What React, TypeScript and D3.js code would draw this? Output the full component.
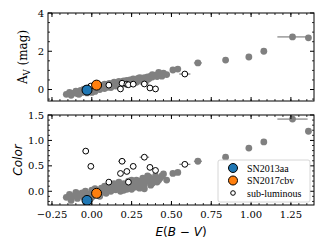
import React from 'react';
import * as d3 from 'd3';

// gray sample: E(B-V), A_V, colour, x error
const grayE = [-0.16, -0.14, -0.12, -0.1, -0.09, -0.07, -0.06, -0.05, -0.04, -0.02, -0.01, 0.0, 0.01, 0.02, 0.03, 0.04, 0.05, 0.06, 0.07, 0.08, 0.09, 0.1, 0.11, 0.12, 0.13, 0.14, 0.15, 0.16, 0.17, 0.18, 0.19, 0.2, 0.21, 0.22, 0.23, 0.24, 0.25, 0.26, 0.27, 0.28, 0.29, 0.3, 0.31, 0.32, 0.33, 0.35, 0.36, 0.37, 0.38, 0.4, 0.41, 0.43, 0.45, 0.47, 0.509, 0.54, 0.666, 0.84, 0.986, 1.08, 1.26, 1.36,
  -0.13, -0.08, -0.03, 0.0, 0.02, 0.05, 0.08, 0.1, 0.12, 0.15, 0.18, 0.2, 0.22, 0.25, 0.28, 0.3, 0.33, 0.35, 0.38, 0.42, 0.44];
const grayAv = [-0.25, -0.15, -0.2, -0.08, -0.22, -0.05, -0.15, 0.02, -0.1, 0.05, -0.05, 0.1, -0.02, 0.15, 0.05, 0.2, 0.1, 0.22, 0.12, 0.28, 0.18, 0.25, 0.32, 0.2, 0.3, 0.38, 0.26, 0.35, 0.42, 0.3, 0.4, 0.45, 0.35, 0.48, 0.4, 0.5, 0.45, 0.55, 0.42, 0.52, 0.58, 0.48, 0.6, 0.55, 0.62, 0.66, 0.58, 0.7, 0.65, 0.75, 0.68, 0.8, 0.86, 0.78, 1.02, 1.07, 1.39, 1.54, 1.7, 2.0, 2.75, 2.7,
  -0.3, -0.25, -0.18, -0.15, -0.1, 0.0, 0.05, 0.12, 0.1, 0.18, 0.22, 0.3, 0.28, 0.35, 0.38, 0.62, 0.48, 0.52, 0.78, 0.9, 0.7];
const grayColor = [-0.12, -0.06, -0.1, -0.02, -0.14, -0.08, -0.03, -0.12, 0.0, -0.06, -0.15, 0.02, -0.08, 0.05, -0.03, 0.0, -0.1, 0.06, 0.02, 0.1, -0.04, 0.05, 0.12, 0.0, 0.08, 0.15, 0.03, 0.1, 0.18, 0.06, 0.12, 0.02, 0.14, 0.08, 0.2, 0.1, 0.04, 0.16, 0.08, 0.22, 0.12, 0.06, 0.18, 0.26, 0.14, 0.2, 0.28, 0.12, 0.24, 0.3, 0.18, 0.26, 0.34, 0.22, 0.35, 0.37, 0.59, 0.67, 0.85, 0.97, 1.42, 1.18,
  -0.18, -0.05, -0.1, -0.12, 0.0, 0.02, -0.02, 0.08, 0.1, 0.12, 0.0, 0.15, 0.04, 0.22, 0.1, 0.2, 0.05, 0.3, 0.16, 0.22, 0.3];
const grayErr = [0, 0, 0, 0, 0, 0, 0, 0, 0, 0, 0, 0, 0, 0, 0, 0, 0, 0, 0, 0, 0, 0, 0, 0, 0, 0, 0, 0, 0, 0, 0, 0, 0, 0, 0, 0, 0, 0, 0, 0, 0, 0, 0, 0, 0, 0, 0, 0, 0, 0, 0, 0, 0, 0, 0.01, 0.01, 0.025, 0.01, 0.01, 0.01, 0.095, 0.01,
  0, 0, 0, 0, 0, 0, 0, 0, 0, 0, 0, 0, 0, 0, 0, 0, 0, 0, 0, 0, 0];

// sub-luminous sample
const subE = [-0.038, -0.006, 0.107, 0.18, 0.19, 0.22, 0.23, 0.26, 0.33, 0.365, 0.4, 0.584];
const subAv = [0.05, 0.18, 0.23, 0.03, 0.33, 0.28, 0.25, 0.28, 0.29, 0.08, 0.03, 0.81];
const subColor = [0.79, 0.49, 0.18, 0.35, 0.59, 0.39, 0.18, 0.49, 0.67, 0.47, 0.41, 0.53];
const subErr = [0.02, 0.01, 0.01, 0.01, 0.025, 0.01, 0.01, 0.01, 0.03, 0.01, 0.01, 0.035];

const highlight = [
  { name: 'SN2013aa', e: -0.03, av: -0.03, color: -0.18, fill: '#1f77b4' },
  { name: 'SN2017cbv', e: 0.03, av: 0.23, color: -0.04, fill: '#ff7f0e' },
];

const xTicks = [-0.25, 0, 0.25, 0.5, 0.75, 1.0, 1.25];
const avTicks = [0, 2, 4];
const colorTicks = [0, 0.5, 1.0, 1.5];

const L = 48, R = 314;
const x = d3.scaleLinear().domain([-0.275, 1.395]).range([L, R]);
const tickFont = 'DejaVu Serif';
const grayCol = '#808080';

type PanelProps = {
  top: number;
  bottom: number;
  y: d3.ScaleLinear<number, number>;
  yTicks: number[];
  yMinor: number[];
  yFmt: (v: number) => string;
  yVals: number[];
  subVals: number[];
  hlKey: 'av' | 'color';
  showX: boolean;
};

function Panel({ top, bottom, y, yTicks, yMinor, yFmt, yVals, subVals, hlKey, showX }: PanelProps) {
  const xMinor = d3.range(-0.25, 1.4, 0.05).filter((v) => v <= 1.395);
  const clipId = `clip-${top}`;
  return (
    <g>
      <defs>
        <clipPath id={clipId}>
          <rect x={L} y={top} width={R - L} height={bottom - top} />
        </clipPath>
      </defs>
      <g clipPath={`url(#${clipId})`}>
        {grayE.map((e, i) =>
          grayErr[i] > 0 ? (
            <line key={`ge${i}`} x1={x(e - grayErr[i])} x2={x(e + grayErr[i])} y1={y(yVals[i])} y2={y(yVals[i])} stroke={grayCol} strokeWidth={1.2} />
          ) : null,
        )}
        {grayE.map((e, i) => (
          <circle key={`g${i}`} cx={x(e)} cy={y(yVals[i])} r={3.4} fill={grayCol} />
        ))}
        {subE.map((e, i) => (
          <line key={`se${i}`} x1={x(e - subErr[i])} x2={x(e + subErr[i])} y1={y(subVals[i])} y2={y(subVals[i])} stroke={grayCol} strokeWidth={1.2} />
        ))}
        {subE.map((e, i) => (
          <circle key={`s${i}`} cx={x(e)} cy={y(subVals[i])} r={2.9} fill="white" stroke="black" strokeWidth={1} />
        ))}
        {highlight.map((h) => (
          <circle key={h.name} cx={x(h.e)} cy={y(h[hlKey])} r={5} fill={h.fill} stroke="black" strokeWidth={1} />
        ))}
      </g>
      <rect x={L} y={top} width={R - L} height={bottom - top} fill="none" stroke="black" strokeWidth={1} />
      {xTicks.map((t) => (
        <g key={`xt${t}`}>
          <line x1={x(t)} x2={x(t)} y1={bottom} y2={bottom - 4} stroke="black" />
          <line x1={x(t)} x2={x(t)} y1={top} y2={top + 4} stroke="black" />
          {showX ? (
            <text x={x(t)} y={bottom + 13} textAnchor="middle" fontFamily={tickFont} fontSize={10}>
              {t < 0 ? `\u2212${Math.abs(t).toFixed(2)}` : t.toFixed(2)}
            </text>
          ) : null}
        </g>
      ))}
      {xMinor.map((t, i) => (
        <g key={`xm${i}`}>
          <line x1={x(t)} x2={x(t)} y1={bottom} y2={bottom - 2} stroke="black" strokeWidth={0.8} />
          <line x1={x(t)} x2={x(t)} y1={top} y2={top + 2} stroke="black" strokeWidth={0.8} />
        </g>
      ))}
      {yTicks.map((t) => (
        <g key={`yt${t}`}>
          <line x1={L} x2={L + 4} y1={y(t)} y2={y(t)} stroke="black" />
          <line x1={R} x2={R - 4} y1={y(t)} y2={y(t)} stroke="black" />
          <text x={L - 4} y={y(t) + 3.5} textAnchor="end" fontFamily={tickFont} fontSize={10}>
            {yFmt(t)}
          </text>
        </g>
      ))}
      {yMinor.map((t, i) => (
        <g key={`ym${i}`}>
          <line x1={L} x2={L + 2} y1={y(t)} y2={y(t)} stroke="black" strokeWidth={0.8} />
          <line x1={R} x2={R - 2} y1={y(t)} y2={y(t)} stroke="black" strokeWidth={0.8} />
        </g>
      ))}
    </g>
  );
}

export default function App() {
  const yAv = d3.scaleLinear().domain([-0.6, 4.0]).range([101, 13]);
  const yCol = d3.scaleLinear().domain([-0.27, 1.5]).range([205, 115]);
  const avMinor = [-0.5, 0.5, 1, 1.5, 2.5, 3, 3.5];
  const colMinor = d3.range(-0.2, 1.5, 0.1).filter((v) => Math.abs(v * 2 - Math.round(v * 2)) > 0.01);

  return (
    <svg width={332} height={249} style={{ position: 'absolute', left: 0, top: 0, background: 'white' }}>
      <Panel top={13} bottom={101} y={yAv} yTicks={avTicks} yMinor={avMinor} yFmt={(v) => String(v)} yVals={grayAv} subVals={subAv} hlKey="av" showX={false} />
      <Panel top={115} bottom={205} y={yCol} yTicks={colorTicks} yMinor={colMinor} yFmt={(v) => v.toFixed(1)} yVals={grayColor} subVals={subColor} hlKey="color" showX={true} />

      <text transform="translate(27,57) rotate(-90)" textAnchor="middle" fontFamily="DejaVu Serif" fontSize={12}>
        A<tspan fontSize={8.5} dy={3}>V</tspan><tspan dy={-3}> (mag)</tspan>
      </text>
      <text transform="translate(22,160) rotate(-90)" textAnchor="middle" fontFamily="DejaVu Sans" fontStyle="italic" fontSize={12}>
        Color
      </text>
      <text x={181} y={236} textAnchor="middle" fontFamily="DejaVu Sans" fontSize={12}>
        <tspan fontStyle="italic">E</tspan>(<tspan fontStyle="italic">B</tspan> {'\u2212'} <tspan fontStyle="italic">V</tspan>)
      </text>

      <g>
        <rect x={218} y={160} width={92} height={42} rx={2} fill="white" fillOpacity={0.85} stroke="#cccccc" strokeWidth={0.8} />
        {highlight.map((h, i) => (
          <g key={h.name}>
            <circle cx={233} cy={168 + i * 12.5} r={4.5} fill={h.fill} stroke="black" strokeWidth={1} />
            <text x={247} y={171.5 + i * 12.5} fontFamily="Liberation Serif" fontSize={10}>{h.name}</text>
          </g>
        ))}
        <circle cx={233} cy={193} r={2.3} fill="white" stroke="black" strokeWidth={1} />
        <text x={247} y={196.5} fontFamily="Liberation Serif" fontSize={10}>sub-luminous</text>
      </g>
    </svg>
  );
}
